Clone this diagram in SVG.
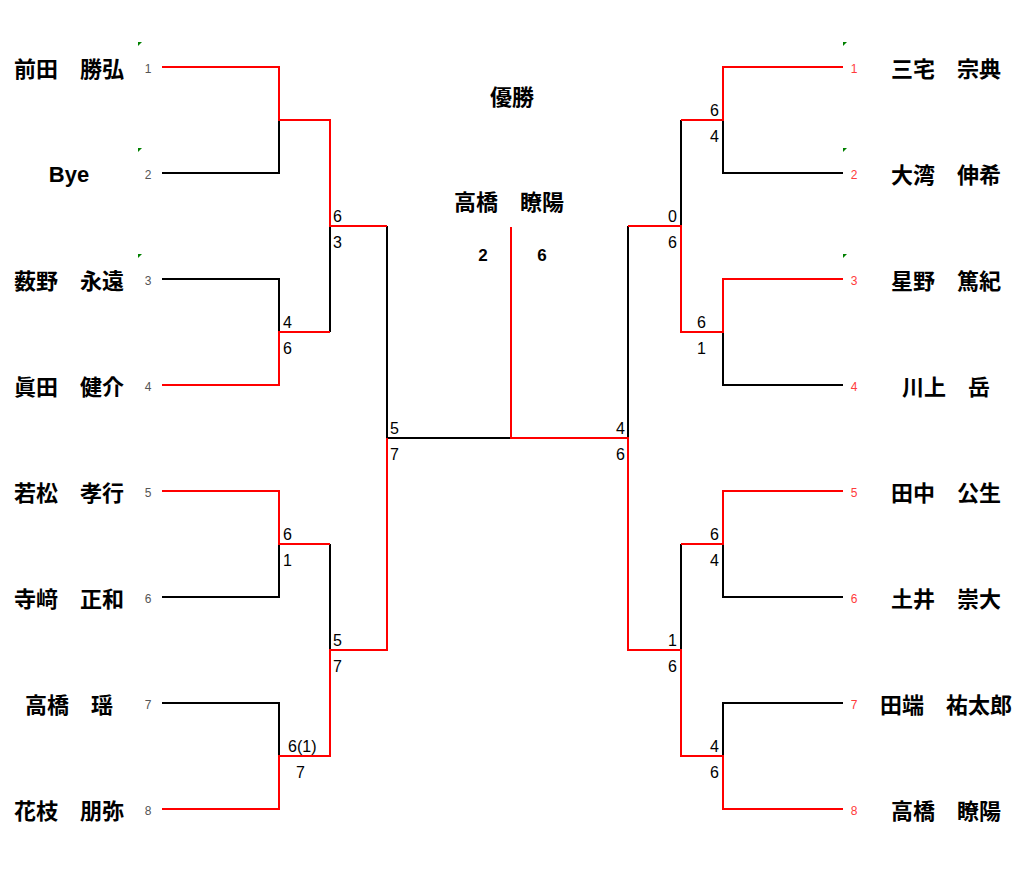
<svg xmlns="http://www.w3.org/2000/svg" width="1024" height="878" viewBox="0 0 1024 878">
<style>
.k{fill:none;stroke:#000;stroke-width:2}
.r{fill:none;stroke:#ff0000;stroke-width:2}
.nm{font-family:"Noto Sans CJK JP","Liberation Sans",sans-serif;font-weight:bold;font-size:22px;fill:#000;text-anchor:middle}
.bye{font-family:"Liberation Sans",sans-serif;font-weight:bold;font-size:22px;fill:#000;text-anchor:middle}
.sl{font-family:"Liberation Sans",sans-serif;font-size:12px;fill:#555;text-anchor:middle}
.sr{font-family:"Liberation Sans",sans-serif;font-size:12px;fill:#ff3b3b;text-anchor:middle}
.sc{font-family:"Liberation Sans",sans-serif;font-size:16px;fill:#000}
.e{text-anchor:end}
.fs{font-family:"Liberation Sans",sans-serif;font-weight:bold;font-size:17px;fill:#000;text-anchor:middle}
.g{fill:#008000}
</style>
<rect width="1024" height="878" fill="#fff"/>
<g id="connectors">
<path class="k" d="M162 173H279V120"/>
<path class="k" d="M162 279H279V332"/>
<path class="k" d="M330 332V226"/>
<path class="k" d="M387 226V438H511"/>
<path class="k" d="M162 597H279V544"/>
<path class="k" d="M330 544V650"/>
<path class="k" d="M162 703H279V756"/>
<path class="k" d="M628 438V226"/>
<path class="k" d="M681 226V120"/>
<path class="k" d="M723 120V173H843"/>
<path class="k" d="M723 332V385H843"/>
<path class="k" d="M681 650V544"/>
<path class="k" d="M723 544V597H843"/>
<path class="k" d="M723 756V703H843"/>
<path class="r" d="M162 67H279V120H330V226H387"/>
<path class="r" d="M162 385H279V332H330"/>
<path class="r" d="M162 491H279V544H330"/>
<path class="r" d="M162 809H279V756H330V650H387V438"/>
<path class="r" d="M511 227V438H628V650H681V756H723V809H843"/>
<path class="r" d="M628 226H681V332H723V279H843"/>
<path class="r" d="M681 120H723V67H843"/>
<path class="r" d="M681 544H723V491H843"/>
</g>
<g id="scores">
<text class="sc" x="333" y="221.5">6</text><text class="sc" x="333" y="247.5">3</text>
<text class="sc" x="283" y="327.5">4</text><text class="sc" x="283" y="353.5">6</text>
<text class="sc" x="283" y="539.5">6</text><text class="sc" x="283" y="565.5">1</text>
<text class="sc" x="333" y="645.5">5</text><text class="sc" x="333" y="671.5">7</text>
<text class="sc" x="288" y="751.5">6(1)</text><text class="sc" x="296" y="777.5">7</text>
<text class="sc" x="390" y="433.5">5</text><text class="sc" x="390" y="459.5">7</text>
<text class="sc e" x="625" y="433.5">4</text><text class="sc e" x="625" y="459.5">6</text>
<text class="sc e" x="677" y="221.5">0</text><text class="sc e" x="677" y="247.5">6</text>
<text class="sc e" x="719" y="115.5">6</text><text class="sc e" x="719" y="141.5">4</text>
<text class="sc e" x="706" y="327.5">6</text><text class="sc e" x="706" y="353.5">1</text>
<text class="sc e" x="677" y="645.5">1</text><text class="sc e" x="677" y="671.5">6</text>
<text class="sc e" x="719" y="539.5">6</text><text class="sc e" x="719" y="565.5">4</text>
<text class="sc e" x="719" y="751.5">4</text><text class="sc e" x="719" y="777.5">6</text>
</g>
<g id="final">
<text class="nm" x="512" y="105">優勝</text>
<text class="nm" x="509" y="210">高橋　瞭陽</text>
<text class="fs" x="483" y="261">2</text>
<text class="fs" x="542" y="261">6</text>
</g>
<g id="L1"><polygon class="g" points="138,42 142,42 138,46"/><text class="sl" x="148" y="72.5">1</text><text class="nm" x="69" y="77">前田　勝弘</text></g>
<g id="L2"><polygon class="g" points="138,148 142,148 138,152"/><text class="sl" x="148" y="178.5">2</text><text class="bye" x="69" y="182">Bye</text></g>
<g id="L3"><polygon class="g" points="138,254 142,254 138,258"/><text class="sl" x="148" y="284.5">3</text><text class="nm" x="69" y="289">薮野　永遠</text></g>
<g id="L4"><text class="sl" x="148" y="390.5">4</text><text class="nm" x="69" y="395">眞田　健介</text></g>
<g id="L5"><text class="sl" x="148" y="496.5">5</text><text class="nm" x="69" y="501">若松　孝行</text></g>
<g id="L6"><text class="sl" x="148" y="602.5">6</text><text class="nm" x="69" y="607">寺﨑　正和</text></g>
<g id="L7"><text class="sl" x="148" y="708.5">7</text><text class="nm" x="69" y="713">高橋　瑶</text></g>
<g id="L8"><text class="sl" x="148" y="814.5">8</text><text class="nm" x="69" y="819">花枝　朋弥</text></g>
<g id="R1"><polygon class="g" points="843,42 847,42 843,46"/><text class="sr" x="854" y="72.5">1</text><text class="nm" x="946" y="77">三宅　宗典</text></g>
<g id="R2"><polygon class="g" points="843,148 847,148 843,152"/><text class="sr" x="854" y="178.5">2</text><text class="nm" x="946" y="183">大湾　伸希</text></g>
<g id="R3"><polygon class="g" points="843,254 847,254 843,258"/><text class="sr" x="854" y="284.5">3</text><text class="nm" x="946" y="289">星野　篤紀</text></g>
<g id="R4"><text class="sr" x="854" y="390.5">4</text><text class="nm" x="946" y="395">川上　岳</text></g>
<g id="R5"><text class="sr" x="854" y="496.5">5</text><text class="nm" x="946" y="501">田中　公生</text></g>
<g id="R6"><text class="sr" x="854" y="602.5">6</text><text class="nm" x="946" y="607">土井　崇大</text></g>
<g id="R7"><text class="sr" x="854" y="708.5">7</text><text class="nm" x="946" y="713">田端　祐太郎</text></g>
<g id="R8"><text class="sr" x="854" y="814.5">8</text><text class="nm" x="946" y="819">高橋　瞭陽</text></g>
</svg>
